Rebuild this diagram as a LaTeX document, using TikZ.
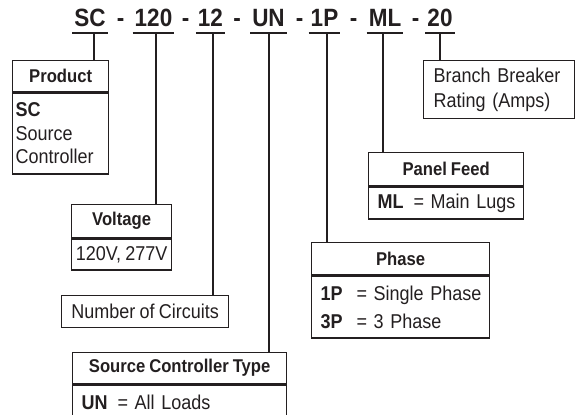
\documentclass[tikz,border=0pt]{standalone}
\usepackage{fontspec}
\setmainfont{Liberation Sans}[FakeStretch=0.9, WordSpace=0.85]
\definecolor{ink}{HTML}{231F20}
\newcommand{\coderow}[2]{\mbox{\makebox[36pt][l]{\bfseries #1}\makebox[17pt][l]{=}#2}}
\tikzset{
  codetxt/.style={inner sep=0pt, anchor=base, text=ink, font=\fontsize{25}{30}\selectfont\bfseries},
  uline/.style={draw=ink, line width=2pt},
  link/.style={draw=ink, line width=1.3pt},
  headbox/.style={draw=ink, line width=1.3pt, anchor=north west, text=ink, inner sep=0pt,
    font=\fontsize{18.5}{22}\selectfont\bfseries},
  bodybox/.style={draw=ink, line width=1.3pt, anchor=north west, text=ink, inner xsep=9pt,
    inner ysep=0pt, align=left, font=\fontsize{20}{23.5}\selectfont},
}
\begin{document}
\begin{tikzpicture}[x=1pt, y=-1pt]
\useasboundingbox (0,0) rectangle (576,415);

% Catalogue number, each field underlined
\foreach \n/\x/\t in {sc/90/SC, vo/153.5/120, nc/210.5/12, un/268.5/UN, ph/324.5/1P, ml/385/ML, br/440/20}{
  \node[codetxt] (c-\n) at (\x,27) {\t};
  \draw[uline] ([xshift=-2pt,yshift=-6pt]c-\n.base west) -- ([xshift=2pt,yshift=-6pt]c-\n.base east);
}
\foreach \x [count=\i] in {120.5, 185.5, 237, 299.5, 353.5, 415.5}
  \node[codetxt] (d-\i) at (\x,27) {-};

% Drop points under the fields
\foreach \n/\x in {sc/94, vo/156, nc/213, un/269, ph/327, ml/383, br/440}
  \coordinate (u-\n) at (\x,33);

% Product
\node[headbox, minimum width=96pt, minimum height=31pt] (prod-h) at (12,60) {Product};
\node[bodybox, inner xsep=3pt, text width=90pt, minimum height=81pt] (prod-b) at (prod-h.south west)
  {\textbf{SC}\\Source\\Controller};

% Voltage
\node[headbox, minimum width=100pt, minimum height=33pt] (volt-h) at (71,204) {Voltage};
\node[bodybox, align=center, inner xsep=2pt, minimum width=100pt, minimum height=31pt] (volt-b) at (volt-h.south west) {120V, 277V};

% Number of circuits
\node[bodybox, align=center, inner xsep=2pt, minimum width=167pt, minimum height=32pt] (circ) at (61,295) {Number of Circuits};

% Source controller type
\node[headbox, minimum width=214pt, minimum height=31pt] (type-h) at (72,352) {Source Controller Type};
\node[bodybox, text width=196pt, minimum height=34pt] (type-b) at (type-h.south west) {\coderow{UN}{All Loads}};

% Phase
\node[headbox, minimum width=178pt, minimum height=32pt] (phase-h) at (311,242) {Phase};
\node[bodybox, text width=160pt, minimum height=62pt] (phase-b) at (phase-h.south west)
  {\coderow{1P}{Single Phase}\\[4.5pt]\coderow{3P}{3 Phase}};

% Panel feed
\node[headbox, minimum width=155pt, minimum height=33pt] (feed-h) at (368,152) {Panel Feed};
\node[bodybox, text width=137pt, minimum height=32pt] (feed-b) at (feed-h.south west) {\coderow{ML}{Main Lugs}};

% Branch breaker rating
\node[bodybox, inner xsep=10pt, text width=131pt, minimum height=58pt] (brk) at (423,60)
  {Branch Breaker\\[1.5pt]Rating (Amps)};

% Drop lines
\draw[link] (u-sc) -- (u-sc |- prod-h.north);
\draw[link] (u-vo) -- (u-vo |- volt-h.north);
\draw[link] (u-nc) -- (u-nc |- circ.north);
\draw[link] (u-un) -- (u-un |- type-h.north);
\draw[link] (u-ph) -- (u-ph |- phase-h.north);
\draw[link] (u-ml) -- (u-ml |- feed-h.north);
\draw[link] (u-br) -- (u-br |- brk.north);
\end{tikzpicture}
\end{document}
